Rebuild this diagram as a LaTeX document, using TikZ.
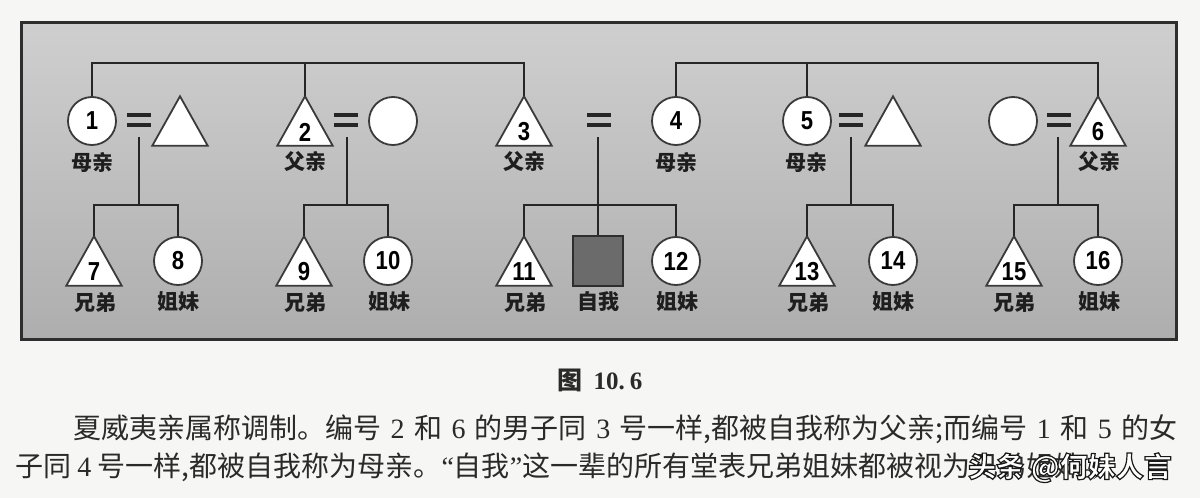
\documentclass[tikz,border=0pt]{standalone}
\usepackage{fontspec}
\setmainfont{Liberation Serif}
\newfontfamily\cjk{Noto Sans CJK SC}
\newfontfamily\numf{Liberation Sans}[FakeStretch=0.85]
\usetikzlibrary{calc}
\definecolor{pagebg}{HTML}{F6F6F4}
\definecolor{boxtop}{HTML}{CFCFCF}
\definecolor{boxbot}{HTML}{AEAEAE}
\definecolor{framec}{HTML}{2E2E2E}
\definecolor{linec}{HTML}{262626}
\definecolor{shapec}{HTML}{3A3A3A}
\definecolor{egofill}{HTML}{6B6B6B}
\definecolor{labc}{HTML}{1E1E1E}
\definecolor{bodyc}{HTML}{2A2A2A}
\newcommand\dg[1]{ {\rmfamily #1} }
\newcommand\kintri[4]{%
  \node[tribox] (#1) at (#2,#3) {};
  \draw[triline] (#1.north) -- (#1.south east) -- (#1.south west) -- cycle;
  \if\relax\detokenize{#4}\relax\else
    \node[num] (#1n) at ([yshift=-11pt]#1.center) {#4};
  \fi}
\newcommand\kineq[3]{%
  \coordinate (#1) at (#2,#3);
  \draw[eqbar] ([xshift=-12pt,yshift=5pt]#1) -- ([xshift=12pt,yshift=5pt]#1);
  \draw[eqbar] ([xshift=-12pt,yshift=-5pt]#1) -- ([xshift=12pt,yshift=-5pt]#1);}
\newcommand\outl[1]{%
  \color{white}\special{pdf:literal direct 2 Tr 1.2 w 0.1 0.1 0.1 RG 1 1 1 rg}#1\special{pdf:literal direct 0 Tr}}
\begin{document}
\begin{tikzpicture}[x=1pt,y=-1pt,
  conn/.style={draw=linec,line width=2.7pt},
  eqbar/.style={draw=linec,line width=4pt},
  circ/.style={circle,draw=shapec,line width=1.8pt,fill=white,minimum size=48pt,inner sep=0pt,
    font=\numf\bfseries\fontsize{26}{26}\selectfont,text=black},
  tribox/.style={rectangle,minimum width=55pt,minimum height=49pt,inner sep=0pt},
  triline/.style={draw=shapec,line width=1.8pt,fill=white,line join=miter},
  num/.style={inner sep=0pt,font=\numf\bfseries\fontsize{26}{26}\selectfont,text=black},
  ego/.style={rectangle,draw=framec,line width=2.2pt,fill=egofill,minimum size=50pt,inner sep=0pt},
  kin/.style={inner sep=0pt,font=\cjk\bfseries\fontsize{21}{21}\selectfont,text=labc},
  bodytext/.style={inner sep=0pt,font=\cjk\fontsize{28}{28}\selectfont,text=bodyc},
  captext/.style={inner sep=0pt,font=\bfseries\fontsize{25}{25}\selectfont,text=bodyc},
  wmstyle/.style={inner sep=0pt,font=\cjk\bfseries\fontsize{28}{28}\selectfont}]
\useasboundingbox (0,0) rectangle (1200,498);
\fill[pagebg] (0,0) rectangle (1200,498);
\fill[top color=boxtop,bottom color=boxbot] (21,22) rectangle (1176,339);
\draw[draw=framec,line width=3pt] (21,22) rectangle (1176,339);

% coordinates for line levels
\coordinate (topY) at (0,63);
\coordinate (sibY) at (0,205);

% parents' generation
\node[circ] (n1) at (92,121) {1};
\kineq{eq1}{139}{120}
\kintri{h1}{180}{121}{}
\kintri{n2}{305}{121}{2}
\kineq{eq2}{346}{120}
\node[circ] (w2) at (393,121) {};
\kintri{n3}{524}{121}{3}
\kineq{eq3}{599}{120}
\node[circ] (n4) at (676,121) {4};
\node[circ] (n5) at (807,121) {5};
\kineq{eq5}{851}{120}
\kintri{h5}{893}{121}{}
\node[circ] (w6) at (1013,121) {};
\kineq{eq6}{1059}{120}
\kintri{n6}{1098}{121}{6}

\node[kin] (l1) at (92,162) {母亲};
\node[kin] (l2) at (305,162) {父亲};
\node[kin] (l3) at (524,162) {父亲};
\node[kin] (l4) at (676,162) {母亲};
\node[kin] (l5) at (806,162) {母亲};
\node[kin] (l6) at (1099,162) {父亲};

% top sibling lines
\draw[conn] (n1.north) |- (n3.north |- topY) -- (n3.north);
\draw[conn] (n2.north) -- (n2.north |- topY);
\draw[conn] (n4.north) |- (n6.north |- topY) -- (n6.north);
\draw[conn] (n5.north) -- (n5.north |- topY);

% children generation
\kintri{c7}{94}{261}{7}
\node[circ] (c8) at (178,261) {8};
\kintri{c9}{304}{261}{9}
\node[circ] (c10) at (388,261) {10};
\kintri{c11}{524}{261}{11}
\node[ego] (ego) at (598,261) {};
\node[circ] (c12) at (676,261) {12};
\kintri{c13}{807}{261}{13}
\node[circ] (c14) at (893,261) {14};
\kintri{c15}{1014}{261}{15}
\node[circ] (c16) at (1098,261) {16};

\node[kin] (l7) at (95,302) {兄弟};
\node[kin] (l8) at (178,302) {姐妹};
\node[kin] (l9) at (305,302) {兄弟};
\node[kin] (l10) at (389,302) {姐妹};
\node[kin] (l11) at (525,302) {兄弟};
\node[kin] (lego) at (598,302) {自我};
\node[kin] (l12) at (677,302) {姐妹};
\node[kin] (l13) at (808,302) {兄弟};
\node[kin] (l14) at (893,302) {姐妹};
\node[kin] (l15) at (1014,302) {兄弟};
\node[kin] (l16) at (1099,302) {姐妹};

% descent lines
\coordinate (d1) at (139,137);
\coordinate (d2) at (347,137);
\coordinate (d3) at (598,137);
\coordinate (d5) at (851,137);
\coordinate (d6) at (1058,137);
\draw[conn] (d1) -- (d1 |- sibY);
\draw[conn] (c7.north) |- (c8.north |- sibY) -- (c8.north);
\draw[conn] (d2) -- (d2 |- sibY);
\draw[conn] (c9.north) |- (c10.north |- sibY) -- (c10.north);
\draw[conn] (d3) -- (ego.north);
\draw[conn] (c11.north) |- (c12.north |- sibY) -- (c12.north);
\draw[conn] (d5) -- (d5 |- sibY);
\draw[conn] (c13.north) |- (c14.north |- sibY) -- (c14.north);
\draw[conn] (d6) -- (d6 |- sibY);
\draw[conn] (c15.north) |- (c16.north |- sibY) -- (c16.north);

% caption and text
\node[captext] (cap) at (600,380) {{\cjk 图}\hspace{11pt}10.\hspace{5pt}6};
\node[bodytext,anchor=base west] (t1) at (73,438)
  {\makebox[1104pt][s]{夏威夷亲属称调制。编号\dg{2}和\dg{6}的男子同\dg{3}号一样,都被自我称为父亲;而编号\dg{1}和\dg{5}的女}};
\node[bodytext,anchor=base west] (t2) at (15,476)
  {子同\dg{4}号一样,都被自我称为母亲。{\rmfamily “}自我{\rmfamily ”}这一辈的所有堂表兄弟姐妹都被视为兄弟姐妹。};
\node[wmstyle,anchor=base west] (wm) at (968,477) {\outl{头条 @何妹人言}};
\end{tikzpicture}
\end{document}
